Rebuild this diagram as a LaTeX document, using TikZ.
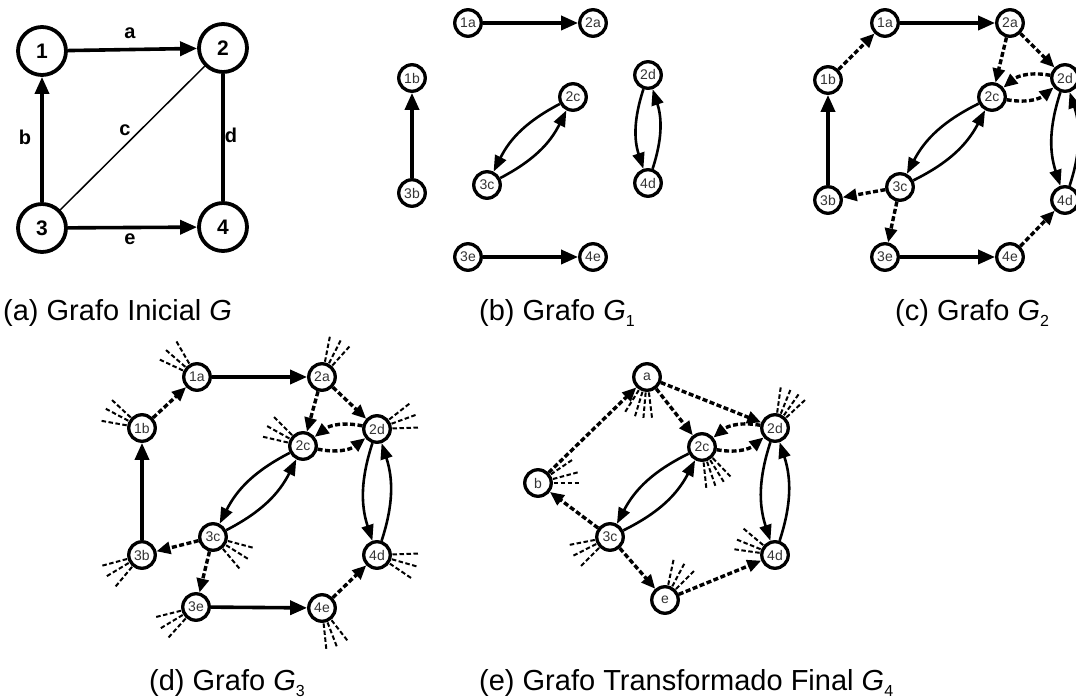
\documentclass[tikz,border=0pt]{standalone}
\usepackage{fontspec}
\setmainfont{Liberation Sans}
\usetikzlibrary{arrows.meta}
\newcommand\mystubs[2]{\foreach \a in {#2}{\draw[stub] (#1.center) ++({-(\a)}:15.5) -- ++({-(\a)}:26);}}
\newcommand\sub[1]{\raisebox{-6pt}{\fontsize{16}{16}\selectfont #1}}
\begin{document}
\begin{tikzpicture}[x=1pt,y=-1pt,
  big/.style={circle,draw,line width=3.8pt,minimum size=48pt,inner sep=0pt,font=\fontsize{21}{21}\selectfont\bfseries},
  sm/.style={circle,draw,line width=3.3pt,minimum size=26.5pt,inner sep=0pt,font=\fontsize{14}{14}\selectfont,text=black!80},
  sarr/.style={line width=3.6pt,-{Triangle[length=17pt,width=14pt]}},
  carr/.style={line width=2.6pt,-{Triangle[length=16pt,width=12pt]},bend right=18},
  darr/.style={line width=3.4pt,dash pattern=on 5pt off 2.5pt,-{Triangle[length=14pt,width=12pt]}},
  dcarr/.style={darr,bend right=25},
  stub/.style={line width=2pt,dash pattern=on 4.5pt off 2.5pt},
  lab/.style={font=\fontsize{20}{20}\selectfont\bfseries},
  captxt/.style={font=\fontsize{29}{29}\selectfont,anchor=base west,inner sep=0pt}
]
\useasboundingbox (0,0) rectangle (1076,700);

% ---------- (a)
\node[big] (A1) at (42,51) {1};
\node[big] (A2) at (223,48) {2};
\node[big] (A3) at (42,228) {3};
\node[big] (A4) at (223,227) {4};
\draw[sarr] (A1) -- (A2);
\draw[sarr] (A3) -- (A1);
\draw[line width=3.6pt] (A2) -- (A4);
\draw[line width=1.5pt] (A3) -- (A2);
\draw[sarr] (A3) -- (A4);
\node[lab] (la) at (130,33) {a};
\node[lab] (lb) at (25,137) {b};
\node[lab] (lc) at (125,130) {c};
\node[lab] (ld) at (231,135) {d};
\node[lab] (le) at (130,239) {e};
\node[captxt] (capa) at (3,321) {(a) Grafo Inicial \textit{G}};

% ---------- (b)
\node[sm] (B1a) at (468,23) {1a};
\node[sm] (B2a) at (593,23) {2a};
\node[sm] (B1b) at (412,78) {1b};
\node[sm] (B3b) at (412,193) {3b};
\node[sm] (B2c) at (573,97) {2c};
\node[sm] (B3c) at (487,185) {3c};
\node[sm] (B2d) at (648,75) {2d};
\node[sm] (B4d) at (648,183) {4d};
\node[sm] (B3e) at (468,257) {3e};
\node[sm] (B4e) at (593,257) {4e};
\draw[sarr] (B1a) -- (B2a);
\draw[sarr] (B3b) -- (B1b);
\draw[carr] (B2c) to (B3c);
\draw[carr] (B3c) to (B2c);
\draw[carr] (B2d) to (B4d);
\draw[carr] (B4d) to (B2d);
\draw[sarr] (B3e) -- (B4e);
\node[captxt] (capb) at (479,321) {(b) Grafo \textit{G}\sub{1}};

% ---------- (c)
\node[sm] (C1a) at (885,23) {1a};
\node[sm] (C2a) at (1010,23) {2a};
\node[sm] (C1b) at (828,80) {1b};
\node[sm] (C2c) at (992,97) {2c};
\node[sm] (C2d) at (1065,78) {2d};
\node[sm] (C3c) at (900,187) {3c};
\node[sm] (C3b) at (828,200) {3b};
\node[sm] (C4d) at (1065,200) {4d};
\node[sm] (C3e) at (885,257) {3e};
\node[sm] (C4e) at (1010,257) {4e};
\draw[sarr] (C1a) -- (C2a);
\draw[darr] (C1b) -- (C1a);
\draw[sarr] (C3b) -- (C1b);
\draw[darr] (C2a) -- (C2c);
\draw[darr] (C2a) -- (C2d);
\draw[dcarr] (C2d) to (C2c);
\draw[dcarr] (C2c) to (C2d);
\draw[carr] (C2c) to (C3c);
\draw[carr] (C3c) to (C2c);
\draw[carr] (C2d) to (C4d);
\draw[carr] (C4d) to (C2d);
\draw[darr] (C3c) -- (C3b);
\draw[darr] (C3c) -- (C3e);
\draw[sarr] (C3e) -- (C4e);
\draw[darr] (C4e) -- (C4d);
\node[captxt] (capc) at (895,321) {(c) Grafo \textit{G}\sub{2}};

% ---------- (d)
\node[sm] (D1a) at (197,377) {1a};
\node[sm] (D2a) at (322,377) {2a};
\node[sm] (D1b) at (142,428) {1b};
\node[sm] (D2c) at (303,446) {2c};
\node[sm] (D2d) at (377,429) {2d};
\node[sm] (D3c) at (213,537) {3c};
\node[sm] (D3b) at (142,555) {3b};
\node[sm] (D4d) at (377,555) {4d};
\node[sm] (D3e) at (196,607) {3e};
\node[sm] (D4e) at (322,608) {4e};
\draw[sarr] (D1a) -- (D2a);
\draw[darr] (D1b) -- (D1a);
\draw[sarr] (D3b) -- (D1b);
\draw[darr] (D2a) -- (D2c);
\draw[darr] (D2a) -- (D2d);
\draw[dcarr] (D2d) to (D2c);
\draw[dcarr] (D2c) to (D2d);
\draw[carr] (D2c) to (D3c);
\draw[carr] (D3c) to (D2c);
\draw[carr] (D2d) to (D4d);
\draw[carr] (D4d) to (D2d);
\draw[darr] (D3c) -- (D3b);
\draw[darr] (D3c) -- (D3e);
\draw[sarr] (D3e) -- (D4e);
\draw[darr] (D4e) -- (D4d);
\mystubs{D1a}{155,139,120}
\mystubs{D1b}{170,152,137}
\mystubs{D2a}{79,63,48}
\mystubs{D2c}{135,151,167}
\mystubs{D2d}{38,20,2}
\mystubs{D3c}{-15,-32,-50}
\mystubs{D3b}{-165,-149,-130}
\mystubs{D3e}{-166,-149,-132}
\mystubs{D4e}{-84,-69,-52}
\mystubs{D4d}{2,-16,-34}
\node[captxt] (capd) at (149,690) {(d) Grafo \textit{G}\sub{3}};

% ---------- (e)
\node[sm] (Ea) at (647,377) {a};
\node[sm] (E2d) at (775,428) {2d};
\node[sm] (E2c) at (702,447) {2c};
\node[sm] (Eb) at (538,483) {b};
\node[sm] (E3c) at (610,537) {3c};
\node[sm] (E4d) at (775,555) {4d};
\node[sm] (Ee) at (665,600) {e};
\draw[darr] (Eb) -- (Ea);
\draw[darr] (Ea) -- (E2c);
\draw[darr] (Ea) -- (E2d);
\draw[dcarr] (E2d) to (E2c);
\draw[dcarr] (E2c) to (E2d);
\draw[carr] (E2c) to (E3c);
\draw[carr] (E3c) to (E2c);
\draw[carr] (E2d) to (E4d);
\draw[carr] (E4d) to (E2d);
\draw[darr] (E3c) -- (Eb);
\draw[darr] (E3c) -- (Ee);
\draw[darr] (Ee) -- (E4d);
\mystubs{Ea}{-122,-107,-95,-83}
\mystubs{E2d}{82,68,55,43}
\mystubs{E2c}{-84,-71,-58,-46}
\mystubs{Eb}{34,15,0}
\mystubs{E3c}{-169,-153,-135}
\mystubs{E4d}{172,158,140}
\mystubs{Ee}{78,62,45}
\node[captxt] (cape) at (479,690) {(e) Grafo Transformado Final \textit{G}\sub{4}};
\end{tikzpicture}
\end{document}
